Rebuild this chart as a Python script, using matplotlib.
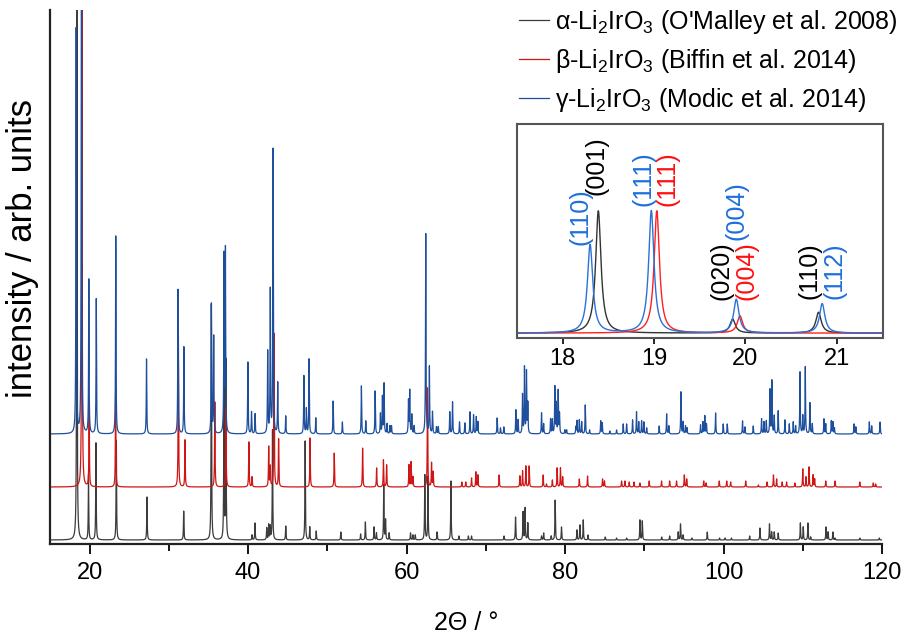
import numpy as np
import matplotlib
matplotlib.use('Agg')
import matplotlib.pyplot as plt

plt.rcParams['font.family'] = ['Liberation Sans', 'DejaVu Sans']
plt.rcParams['mathtext.fontset'] = 'custom'
plt.rcParams['mathtext.rm'] = 'Liberation Sans'
plt.rcParams['mathtext.it'] = 'Liberation Sans:italic'

# peak positions (2theta, deg) and heights (arb. units)
alpha_pos = [18.39, 19.86, 20.80, 23.37, 27.24, 31.87, 35.36, 36.95, 37.20, 40.50,
             40.87, 42.35, 42.60, 42.80, 43.08, 44.75, 47.20, 47.78, 48.60, 51.70,
             54.20, 54.80, 55.90, 56.20, 57.12, 57.35, 57.80, 60.50, 60.80, 61.10,
             62.30, 62.70, 63.85, 65.60, 66.60, 67.80, 68.20, 72.30, 73.75, 74.70,
             74.96, 75.30, 77.03, 77.30, 78.25, 78.75, 79.55, 81.50, 81.87, 82.30,
             82.90, 85.07, 86.50, 87.77, 89.45, 89.75, 92.20, 93.20, 94.28, 94.57,
             94.90, 96.00, 97.95, 99.50, 100.2, 101.0, 103.3, 104.6, 105.8, 106.07,
             106.4, 106.9, 109.7, 110.06, 110.65, 111.0, 112.93, 113.2, 113.8, 114.06,
             117.2, 119.66]
alpha_int = [570, 65, 97, 100, 43, 29, 236, 150, 179, 5,
             17, 12, 15, 13, 110, 14, 99, 13, 9, 8,
             6, 18, 13, 7, 55, 20, 7, 7, 5, 5,
             65, 63, 8, 59, 4, 4, 4, 4, 23, 28,
             32, 17, 4, 7, 4, 40, 13, 10, 15, 20,
             5, 3, 2, 2, 20, 19, 3, 4, 8, 16,
             5, 2, 8, 2, 2, 2, 4, 12, 16, 8,
             8, 7, 17, 13, 17, 3, 13, 8, 8, 2,
             2, 2]

beta_pos = [19.03, 19.94, 23.28, 31.20, 32.04, 35.80, 37.20, 40.10, 40.50, 42.60,
            42.80, 43.27, 43.85, 47.82, 50.87, 54.45, 56.22, 57.08, 57.48, 60.30,
            60.57, 60.80, 62.64, 63.15, 63.35, 66.97, 67.47, 68.20, 68.74, 69.00,
            71.68, 74.30, 74.64, 75.05, 75.47, 77.24, 77.66, 78.40, 79.00, 79.42,
            79.70, 81.80, 82.84, 84.73, 84.98, 87.13, 87.55, 88.10, 88.70, 89.44,
            90.62, 92.18, 93.20, 94.07, 95.05, 95.35, 97.50, 97.80, 99.46, 100.4,
            100.9, 102.8, 104.4, 105.5, 106.3, 106.7, 107.4, 107.96, 109.0, 110.0,
            110.4, 110.8, 111.3, 111.5, 112.9, 114.07, 117.2, 118.9, 119.2]
beta_int = [585, 82, 95, 154, 47, 85, 80, 45, 10, 40,
            20, 154, 48, 49, 34, 39, 19, 27, 22, 22,
            25, 10, 99, 24, 15, 5, 5, 9, 15, 12,
            12, 11, 16, 21, 21, 12, 3, 7, 19, 19,
            10, 8, 11, 8, 6, 6, 6, 5, 5, 4,
            6, 6, 6, 6, 12, 8, 6, 4, 6, 6,
            5, 6, 2, 5, 12, 8, 5, 5, 4, 18,
            10, 20, 12, 8, 6, 6, 5, 4, 3]

gamma_pos = [18.30, 18.97, 19.90, 20.84, 23.30, 27.18, 31.15, 31.90, 35.37, 35.66,
             36.96, 37.14, 39.97, 40.43, 40.88, 42.47, 42.80, 43.15, 43.74, 44.75,
             47.04, 47.35, 47.69, 48.54, 50.73, 51.90, 54.30, 54.85, 56.03, 56.70,
             56.95, 57.16, 57.54, 57.90, 58.10, 60.24, 60.40, 60.66, 60.95, 62.42,
             62.88, 63.27, 63.77, 64.00, 65.45, 65.80, 66.68, 67.35, 68.00, 68.45,
             68.80, 69.00, 71.43, 71.85, 72.27, 73.79, 74.08, 74.63, 74.88, 75.13,
             75.30, 77.03, 77.30, 78.17, 78.40, 78.71, 78.90, 79.13, 79.30, 79.97,
             80.20, 81.36, 81.50, 81.80, 82.10, 82.55, 83.10, 84.50, 84.70, 85.65,
             86.50, 87.34, 87.77, 88.52, 89.02, 89.30, 89.66, 89.95, 90.30, 91.88,
             92.82, 93.10, 94.62, 94.90, 95.20, 95.40, 97.10, 97.40, 97.64, 97.85,
             99.00, 99.96, 100.47, 102.40, 102.70, 103.75, 104.80, 105.10, 105.40, 105.86,
             106.10, 106.40, 106.90, 107.75, 108.30, 108.80, 109.10, 109.65, 110.00, 110.32,
             110.90, 111.20, 112.67, 112.90, 113.60, 113.80, 114.00, 116.47, 116.70, 118.40,
             118.70, 119.75]
gamma_int = [405, 560, 154, 135, 198, 75, 145, 87, 130, 97,
             176, 182, 72, 22, 20, 82, 143, 285, 51, 18,
             58, 25, 75, 16, 33, 12, 48, 13, 43, 20,
             37, 50, 10, 8, 8, 33, 43, 19, 8, 200,
             67, 22, 7, 7, 22, 32, 12, 11, 22, 19,
             17, 12, 16, 6, 7, 24, 14, 39, 66, 62,
             30, 21, 10, 15, 14, 47, 30, 43, 20, 4,
             4, 7, 13, 14, 12, 29, 4, 13, 11, 3,
             4, 10, 10, 14, 22, 12, 13, 12, 6, 8,
             20, 8, 42, 12, 8, 6, 9, 12, 18, 10,
             21, 10, 10, 13, 7, 8, 15, 12, 13, 44,
             53, 18, 23, 14, 10, 12, 8, 62, 18, 67,
             31, 10, 15, 10, 13, 12, 6, 10, 7, 12,
             8, 12]

labels = [r"α-Li$_{\mathregular{2}}$IrO$_{\mathregular{3}}$ (O'Malley et al. 2008)",
          r"β-Li$_{\mathregular{2}}$IrO$_{\mathregular{3}}$ (Biffin et al. 2014)",
          r"γ-Li$_{\mathregular{2}}$IrO$_{\mathregular{3}}$ (Modic et al. 2014)"]
offsets = [0, 53, 106]
main_colors = ['#3c3c3c', '#d01515', '#1d4f9c']
inset_colors = ['#333333', '#ff2020', '#2a72d8']

# Miller indices in the inset
hkl_text = ['(110)', '(001)', '(111)', '(111)', '(020)', '(004)', '(004)', '(110)', '(112)']
hkl_x = [18.20, 18.37, 18.88, 19.15, 19.74, 19.90, 20.01, 20.70, 20.97]
hkl_y = [0.95, 1.37, 1.26, 1.26, 0.51, 1.00, 0.51, 0.51, 0.51]
hkl_color = ['#1f6fdc', 'black', '#1f6fdc', '#ff1010', 'black', '#1f6fdc', '#ff1010', 'black', '#1f6fdc']


def pattern(tt, pos, inten, fwhm=0.07):
    g = fwhm / 2
    y = np.zeros_like(tt)
    for p, h in zip(pos, inten):
        y += h * g**2 / ((tt - p)**2 + g**2)
    return y


series = [(alpha_pos, alpha_int), (beta_pos, beta_int), (gamma_pos, gamma_int)]

fig = plt.figure(figsize=(9.05, 6.37), dpi=100)
ax = fig.add_axes([50/905, 93/637, 832/905, 534/637])

tt = np.arange(15, 120.001, 0.004)
for (pos, inten), off, c, lab in zip(series, offsets, main_colors, labels):
    ax.plot(tt, pattern(tt, pos, inten) + off, color=c, lw=0.9, label=lab)

ax.set_xlim(15, 120)
ax.set_ylim(-4, 530)
ax.set_yticks([])
ax.set_xticks([20, 40, 60, 80, 100, 120])
ax.set_xticks([30, 50, 70, 90, 110], minor=True)
ax.tick_params(axis='x', which='major', length=7, width=1.3, labelsize=17, pad=6)
ax.tick_params(axis='x', which='minor', length=5, width=1.3)
for s in ['top', 'right']:
    ax.spines[s].set_visible(False)
for s in ['left', 'bottom']:
    ax.spines[s].set_linewidth(1.6)
    ax.spines[s].set_color('#222222')
ax.set_xlabel('2Θ / °', fontsize=18)
ax.xaxis.set_label_coords(0.5, -0.125)
ax.set_ylabel('intensity / arb. units', fontsize=25)
ax.yaxis.set_label_coords(-0.013, 0.554)

ax.legend(loc='upper right', bbox_to_anchor=(1.0, 1.0), bbox_transform=fig.transFigure,
          frameon=False, fontsize=18, handlelength=1.2, handletextpad=0.25,
          labelspacing=0.45, borderpad=0.1, borderaxespad=0.2)

# inset around the low-angle reflections
axin = fig.add_axes([517/905, 299/637, 365.5/905, 214/637])
axin.set_facecolor('white')
ti = np.arange(17.5, 21.5, 0.002)
for (pos, inten), c in zip(series, inset_colors):
    axin.plot(ti, pattern(ti, pos, inten) / max(inten), color=c, lw=1.0)
axin.set_xlim(17.5, 21.5)
axin.set_ylim(-0.04, 1.71)
axin.set_yticks([])
axin.set_xticks([18, 19, 20, 21])
axin.tick_params(axis='x', length=4, width=1.2, labelsize=17, pad=3)
for s in axin.spines.values():
    s.set_linewidth(1.5)
    s.set_color('#555555')
for t, x, y, c in zip(hkl_text, hkl_x, hkl_y, hkl_color):
    axin.text(x, y, t, color=c, fontsize=18, rotation=90, ha='center', va='center')

fig.savefig('out.png', dpi=100)
